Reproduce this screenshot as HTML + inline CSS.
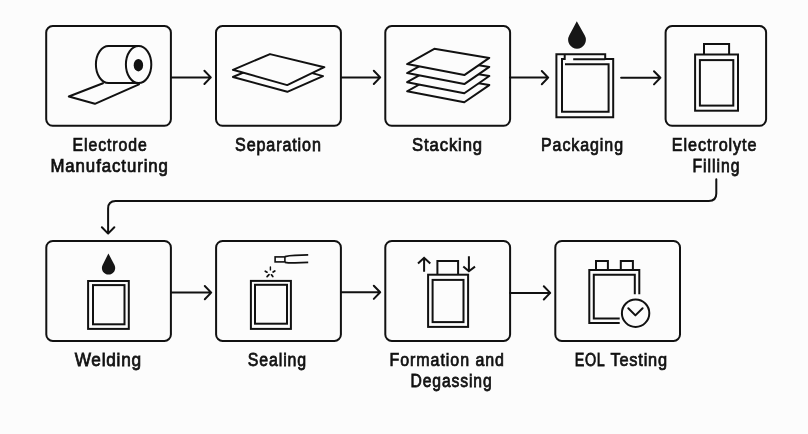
<!DOCTYPE html>
<html><head><meta charset="utf-8">
<style>
html,body{margin:0;padding:0;background:#fcfcfc;overflow:hidden;}
svg{display:block;will-change:transform;}
text{font-family:"Liberation Sans",sans-serif;font-size:17.8px;fill:#111;stroke:#111;stroke-width:0.75px;}
</style></head><body>
<svg width="808" height="434" viewBox="0 0 808 434">
<rect x="0" y="0" width="808" height="434" fill="#fcfcfc"/>
<g fill="none" stroke="#111" stroke-width="2" stroke-linecap="round" stroke-linejoin="round">
  <!-- Row 1 boxes -->
  <rect x="46.2" y="26.1" width="124.7" height="99.7" rx="6.5"/>
  <rect x="216" y="26.1" width="124.9" height="99.7" rx="6.5"/>
  <rect x="385.3" y="26.1" width="124.8" height="99.7" rx="6.5"/>
  <rect x="665.6" y="26.1" width="100.5" height="99.7" rx="6.5"/>
  <!-- Row 2 boxes -->
  <rect x="46.3" y="241" width="124.6" height="99.9" rx="6.5"/>
  <rect x="216.1" y="241" width="124.8" height="99.9" rx="6.5"/>
  <rect x="385.3" y="241" width="124.8" height="99.9" rx="6.5"/>
  <rect x="555.3" y="241" width="124.7" height="99.9" rx="6.5"/>

  <!-- Row 1 arrows -->
  <path d="M170.9 77.4H210.8M204.4 70.8L210.8 77.4L204.4 84.0"/>
  <path d="M340.9 77.4H380.2M373.8 70.8L380.2 77.4L373.8 84.0"/>
  <path d="M510.1 77.6H548.2M541.8 71.0L548.2 77.6L541.8 84.2"/>
  <path d="M621.1 77.8H660.4M654.0 71.2L660.4 77.8L654.0 84.4"/>
  <!-- Row 2 arrows -->
  <path d="M170.9 292.6H211.2M204.8 286.0L211.2 292.6L204.8 299.2"/>
  <path d="M340.9 292.3H380.2M373.8 285.7L380.2 292.3L373.8 298.9"/>
  <path d="M510.1 292.9H550.2M543.8 286.3L550.2 292.9L543.8 299.5"/>

  <!-- Connector -->
  <path d="M716.3 179.3V193.6Q716.3 201.1 708.8 201.1H115.6Q108.1 201.1 108.1 208.6V233.6M101.9 227.2L108.1 233.6L114.3 227.2"/>

  <!-- Icon 1: roll -->
  <path d="M103 83.2L68.8 96.5L94.9 103.8L139 84.4"/>
  <path d="M108.6 45.9H138.6M108.6 83.1H138.6"/>
  <path d="M108.6 45.9A12.7 18.6 0 0 0 108.6 83.1"/>
  <ellipse cx="138.6" cy="64.5" rx="12.7" ry="18.6" fill="#fcfcfc"/>
  <ellipse cx="138.4" cy="65.2" rx="4.7" ry="6.2" fill="#111" stroke="none"/>

  <!-- Icon 2: two sheets -->
  <path d="M232.9 77L270 61.3L323 76.1L287.3 91.8Z" fill="#fcfcfc"/>
  <path d="M232.9 69.8L270 54.1L324.3 67.2L287.2 85.1Z" fill="#fcfcfc"/>

  <!-- Icon 3: four sheets -->
  <path d="M407.1 91.3L434.3 76.0L489.3 85.1L464.3 102.3Z" fill="#fcfcfc"/>
  <path d="M407.1 82.2L434.3 66.9L489.3 76.0L464.3 93.2Z" fill="#fcfcfc"/>
  <path d="M407.1 73.1L434.3 57.8L489.3 66.9L464.3 84.1Z" fill="#fcfcfc"/>
  <path d="M407.1 64.1L434.3 48.8L489.3 57.9L464.3 75.1Z" fill="#fcfcfc"/>

  <g stroke-linejoin="miter" stroke-linecap="butt">
  <!-- Icon 4: packaging -->
  <path d="M556.4 117.3V54.2H605.2V58.9H613.2V117.3Z"/>
  <path d="M573.2 59.3H605.2"/>
  <path d="M562 111.7V59H564.7V54.2"/>
  <path d="M565 64.3H608.6V111.7H561"/>

  <!-- Icon 5: battery -->
  <path d="M704 54.5V44H729.1V54.5"/>
  <rect x="695.1" y="54.5" width="42.9" height="56.2"/>
  <rect x="699.9" y="60.1" width="33.4" height="45.5"/>

  <!-- Icon 6: welding -->
  <rect x="88.1" y="281" width="40.7" height="47.9"/>
  <rect x="93" y="285.1" width="31.5" height="39.2"/>

  <!-- Icon 7: sealing -->
  <rect x="250.9" y="280.9" width="40" height="48"/>
  <rect x="255" y="284.8" width="32" height="38.9"/>
  <rect x="275.1" y="256.9" width="9.8" height="5" stroke-width="1.6" stroke-linejoin="miter"/>
  <path d="M284.9 256.6Q289 255.4 295 255.3L308.2 254.9M284.9 262.3Q289 263 295 262.8L308.2 262.3" stroke-width="1.8"/>
  <path d="M270.4 266.9V269.9" stroke-width="1.4" stroke-linecap="round"/><path d="M265.3 271.2L267 272.2M274.8 270.9L273.1 272M267.1 276.6L269 274.6M272.8 276.6L271.5 274.8" stroke-width="1.75" stroke-linecap="round"/>

  <!-- Icon 8: formation -->
  <path d="M437.4 274.7V261.1H458.1V274.7"/>
  <rect x="428.1" y="274.7" width="40" height="52.2"/>
  <rect x="432.6" y="279.9" width="30.9" height="42.2"/>
  <path d="M424.1 271.7V258M418 263.5L424.1 257.8L430.3 263.4"/>
  <path d="M468.9 256.2V270.9M463.3 266.4L468.9 271.2L475 266.6"/>

  <!-- Icon 9: EOL -->
  <path d="M596 270V260.9H607.9V270M620.8 270V260.9H632.9V270"/>
  <path d="M619.7 323.1H589.3V270H639.3V294.3"/>
  <path d="M619.7 318.6H593.8V274.7H634.8V294.3"/>
  <circle cx="635.6" cy="313.2" r="13.7"/>
  </g>
  <path d="M628.3 308.3L635.4 315.4L642.6 308.3"/>
</g>
<!-- drops -->
<path d="M576.8 21.2L584.8 35.5A8.9 8.9 0 1 1 569.2 35.5Z" fill="#161616"/>
<path d="M108.4 253.5L114.5 265A6.65 6.65 0 1 1 102.6 265Z" fill="#161616"/>

<!-- labels -->
<g transform="scale(0.889 1)"><text x="123.37" y="151.0" text-anchor="middle" textLength="83.41" lengthAdjust="spacing">Electrode</text></g>
<g transform="scale(0.944 1)"><text x="115.67" y="172.0" text-anchor="middle" textLength="124.51" lengthAdjust="spacing">Manufacturing</text></g>
<g transform="scale(0.905 1)"><text x="307.14" y="151.0" text-anchor="middle" textLength="94.79" lengthAdjust="spacing">Separation</text></g>
<g transform="scale(0.934 1)"><text x="478.67" y="151.0" text-anchor="middle" textLength="74.92" lengthAdjust="spacing">Stacking</text></g>
<g transform="scale(0.898 1)"><text x="648.15" y="151.0" text-anchor="middle" textLength="91.35" lengthAdjust="spacing">Packaging</text></g>
<g transform="scale(0.91 1)"><text x="784.78" y="151.0" text-anchor="middle" textLength="93.00" lengthAdjust="spacing">Electrolyte</text></g>
<g transform="scale(0.883 1)"><text x="810.76" y="172.0" text-anchor="middle" textLength="53.22" lengthAdjust="spacing">Filling</text></g>
<g transform="scale(0.968 1)"><text x="111.43" y="366.0" text-anchor="middle" textLength="68.65" lengthAdjust="spacing">Welding</text></g>
<g transform="scale(0.894 1)"><text x="309.84" y="366.0" text-anchor="middle" textLength="65.21" lengthAdjust="spacing">Sealing</text></g>
<g transform="scale(0.898 1)"><text x="497.50" y="366.0" text-anchor="middle" textLength="127.34" lengthAdjust="spacing">Formation and</text></g>
<g transform="scale(0.881 1)"><text x="512.03" y="387.0" text-anchor="middle" textLength="92.03" lengthAdjust="spacing">Degassing</text></g>
<g transform="scale(0.807 1)"><text x="730.81" y="366.0" text-anchor="middle" textLength="37.09" lengthAdjust="spacing">EOL</text></g>
<g transform="scale(0.919 1)"><text x="695.08" y="366.0" text-anchor="middle" textLength="61.55" lengthAdjust="spacing">Testing</text></g>
<!-- /labels -->
</svg>
</body></html>
